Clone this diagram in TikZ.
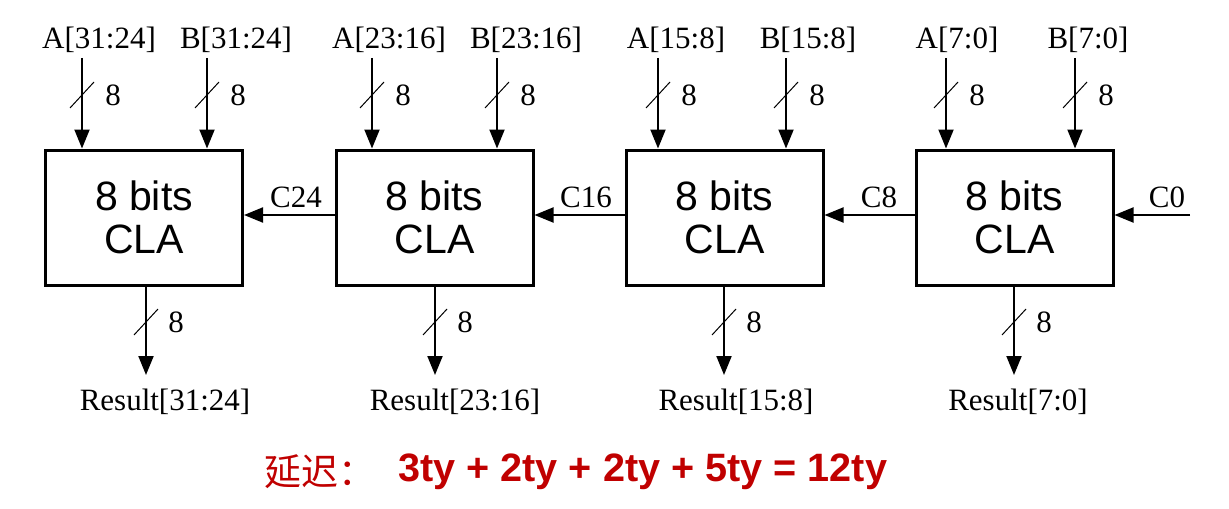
\documentclass[tikz,border=0pt]{standalone}
\usepackage{fontspec}
\setmainfont{Liberation Serif}
\setsansfont{Liberation Sans}
\newfontfamily\cjk{Noto Sans CJK SC}
\usepackage{xcolor}
\usetikzlibrary{arrows.meta}
\definecolor{delayred}{HTML}{C00000}
\tikzset{
  cla/.style={draw, line width=1.5pt, minimum width=98.5pt, minimum height=67.5pt,
    align=center, font=\sffamily\fontsize{20.5}{21.5}\selectfont},
  sig/.style={font=\fontsize{15.5}{16}\selectfont, inner sep=0pt},
  bus/.style={line width=1pt, -{Triangle[length=9.5pt,width=7.5pt]}},
  slashmk/.style={line width=0.5pt},
  num/.style={font=\fontsize{15.5}{16}\selectfont, inner sep=0pt},
  delay/.style={text=delayred, inner sep=0pt}
}
\begin{document}
\begin{tikzpicture}[x=0.5pt,y=-0.5pt]
\useasboundingbox (0,0) rectangle (1229,508);
% adder blocks
\node[cla] (cla1) at (144,217.5) {8 bits\\CLA};
\node[cla] (cla2) at (434.5,217.5) {8 bits\\CLA};
\node[cla] (cla3) at (724.5,217.5) {8 bits\\CLA};
\node[cla] (cla4) at (1014.5,217.5) {8 bits\\CLA};

% operand inputs
\node[sig] (a1) at (99,40) {A[31:24]};
\node[sig] (b1) at (236,40) {B[31:24]};
\node[sig] (a2) at (389,40) {A[23:16]};
\node[sig] (b2) at (526,40) {B[23:16]};
\node[sig] (a3) at (676,40) {A[15:8]};
\node[sig] (b3) at (808,40) {B[15:8]};
\node[sig] (a4) at (957,40) {A[7:0]};
\node[sig] (b4) at (1088,40) {B[7:0]};
\coordinate (ain1) at (82,58);   \coordinate (bin1) at (207,58);
\coordinate (ain2) at (372,58);  \coordinate (bin2) at (497,58);
\coordinate (ain3) at (658,58);  \coordinate (bin3) at (786,58);
\coordinate (ain4) at (946,58);  \coordinate (bin4) at (1075,58);
\draw[bus] (ain1) -- (ain1 |- cla1.north);
\draw[bus] (bin1) -- (bin1 |- cla1.north);
\draw[bus] (ain2) -- (ain2 |- cla2.north);
\draw[bus] (bin2) -- (bin2 |- cla2.north);
\draw[bus] (ain3) -- (ain3 |- cla3.north);
\draw[bus] (bin3) -- (bin3 |- cla3.north);
\draw[bus] (ain4) -- (ain4 |- cla4.north);
\draw[bus] (bin4) -- (bin4 |- cla4.north);
\draw[slashmk] (82,95) +(-12,13) -- +(12,-13);   \node[num] at (113,95) {8};
\draw[slashmk] (207,95) +(-12,13) -- +(12,-13);  \node[num] at (238,95) {8};
\draw[slashmk] (372,95) +(-12,13) -- +(12,-13);  \node[num] at (403,95) {8};
\draw[slashmk] (497,95) +(-12,13) -- +(12,-13);  \node[num] at (528,95) {8};
\draw[slashmk] (658,95) +(-12,13) -- +(12,-13);  \node[num] at (689,95) {8};
\draw[slashmk] (786,95) +(-12,13) -- +(12,-13);  \node[num] at (817,95) {8};
\draw[slashmk] (946,95) +(-12,13) -- +(12,-13);  \node[num] at (977,95) {8};
\draw[slashmk] (1075,95) +(-12,13) -- +(12,-13); \node[num] at (1106,95) {8};

% carry chain
\coordinate (cin) at (1190,215);
\draw[bus] (cin) -- (cin -| cla4.east);
\draw[bus] (cla4.west |- cin) -- (cla3.east |- cin);
\draw[bus] (cla3.west |- cin) -- (cla2.east |- cin);
\draw[bus] (cla2.west |- cin) -- (cla1.east |- cin);
\node[sig] (c0) at (1167,197) {C0};
\node[sig] (c8) at (879,197) {C8};
\node[sig] (c16) at (586,197) {C16};
\node[sig] (c24) at (296,197) {C24};

% results
\coordinate (out1) at (146,375);  \coordinate (out2) at (435,375);
\coordinate (out3) at (724,375);  \coordinate (out4) at (1014,375);
\draw[bus] (out1 |- cla1.south) -- (out1);
\draw[bus] (out2 |- cla2.south) -- (out2);
\draw[bus] (out3 |- cla3.south) -- (out3);
\draw[bus] (out4 |- cla4.south) -- (out4);
\draw[slashmk] (146,322) +(-12,13) -- +(12,-13);  \node[num] at (176,322) {8};
\draw[slashmk] (435,322) +(-12,13) -- +(12,-13);  \node[num] at (465,322) {8};
\draw[slashmk] (724,322) +(-12,13) -- +(12,-13);  \node[num] at (754,322) {8};
\draw[slashmk] (1014,322) +(-12,13) -- +(12,-13); \node[num] at (1044,322) {8};
\node[sig] (r1) at (165,402) {Result[31:24]};
\node[sig] (r2) at (455,402) {Result[23:16]};
\node[sig] (r3) at (736,402) {Result[15:8]};
\node[sig] (r4) at (1018,402) {Result[7:0]};

% delay
\node[delay, font=\cjk\fontsize{18.5}{20}\selectfont, anchor=west] (dlbl) at (264,472) {延迟：};
\node[delay, font=\sffamily\bfseries\fontsize{19.8}{22}\selectfont, anchor=west] (dsum) at (398,472) {3ty + 2ty + 2ty + 5ty = 12ty};
\end{tikzpicture}
\end{document}
